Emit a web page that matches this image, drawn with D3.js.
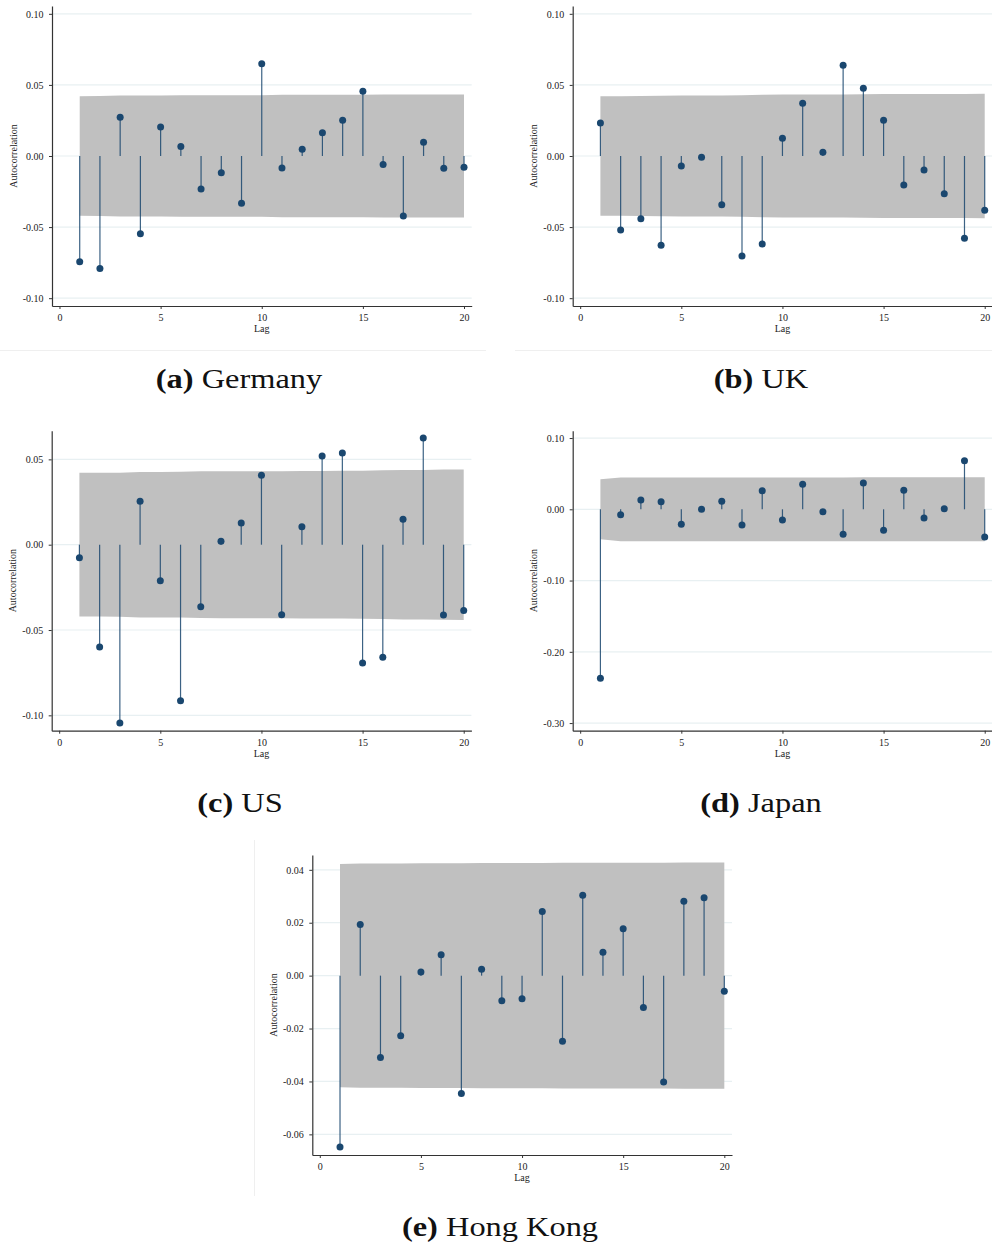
<!DOCTYPE html>
<html><head><meta charset="utf-8">
<script src="https://cdn.jsdelivr.net/npm/d3@7"></script>
<style>body{margin:0;background:#fff}svg{display:block}</style>
</head><body>
<script>
// ---------- DATA ----------
const lags = [1,2,3,4,5,6,7,8,9,10,11,12,13,14,15,16,17,18,19,20];
const xTicks = [0,5,10,15,20];

const germanyAcf = [-0.0743,-0.0792,0.0272,-0.0546,0.0204,0.0066,-0.0232,-0.0117,-0.0333,0.0649,
                    -0.0084,0.0047,0.0164,0.0251,0.0455,-0.0059,-0.0422,0.0096,-0.0087,-0.0080];
const ukAcf      = [0.0232,-0.0521,-0.0441,-0.0628,-0.0070,-0.0009,-0.0342,-0.0703,-0.0619,0.0124,
                    0.0371,0.0026,0.0638,0.0476,0.0251,-0.0204,-0.0098,-0.0265,-0.0579,-0.0382];
const usAcf      = [-0.0076,-0.0599,-0.1045,0.0254,-0.0211,-0.0914,-0.0363,0.0020,0.0127,0.0407,
                    -0.0410,0.0105,0.0520,0.0537,-0.0693,-0.0660,0.0149,0.0625,-0.0412,-0.0385];
const japanAcf   = [-0.2372,-0.0075,0.0131,0.0107,-0.0211,0.0000,0.0112,-0.0220,0.0261,-0.0150,
                    0.0351,-0.0033,-0.0351,0.0369,-0.0295,0.0267,-0.0122,0.0008,0.0682,-0.0389];
const hongKongAcf= [-0.0648,0.0193,-0.0309,-0.0227,0.0014,0.0079,-0.0446,0.0024,-0.0095,-0.0087,
                    0.0242,-0.0248,0.0304,0.0088,0.0177,-0.0120,-0.0402,0.0281,0.0294,-0.0059];

// 95% confidence band half-widths (Bartlett), per lag
const germanyBand = [0.0420,0.0422,0.0425,0.0425,0.0426,0.0427,0.0427,0.0427,0.0428,0.0428,
                     0.0430,0.0430,0.0430,0.0430,0.0431,0.0432,0.0432,0.0433,0.0433,0.0433];
const ukBand      = [0.0421,0.0421,0.0422,0.0423,0.0426,0.0426,0.0426,0.0427,0.0430,0.0432,
                     0.0432,0.0433,0.0433,0.0435,0.0436,0.0436,0.0436,0.0436,0.0436,0.0437];
const usBand      = [0.0421,0.0421,0.0422,0.0426,0.0426,0.0427,0.0430,0.0431,0.0431,0.0431,
                     0.0431,0.0432,0.0432,0.0433,0.0434,0.0436,0.0438,0.0438,0.0440,0.0441];
const japanBand   = [0.0421,0.0447,0.0447,0.0447,0.0447,0.0447,0.0447,0.0447,0.0447,0.0448,
                     0.0448,0.0448,0.0448,0.0449,0.0449,0.0449,0.0449,0.0449,0.0449,0.0450];
const hongKongBand= [0.0422,0.0424,0.0424,0.0424,0.0425,0.0425,0.0425,0.0426,0.0426,0.0426,
                     0.0426,0.0427,0.0427,0.0427,0.0427,0.0427,0.0427,0.0428,0.0428,0.0428];

const yTicksA = [-0.10,-0.05,0.00,0.05,0.10];
const yTicksC = [-0.10,-0.05,0.00,0.05];
const yTicksD = [-0.30,-0.20,-0.10,0.00,0.10];
const yTicksE = [-0.06,-0.04,-0.02,0.00,0.02,0.04];

const captionLetters = ["(a)","(b)","(c)","(d)","(e)"];
const captionNames   = ["Germany","UK","US","Japan","Hong Kong"];

// ---------- LAYOUT ----------
const W = 992, H = 1245;
const svg = d3.select("body").append("svg").attr("width", W).attr("height", H);

const panels = [
  {acf: germanyAcf,  band: germanyBand,  ticks: yTicksA, yDom: [-0.1055, 0.1055], ax: 52,    top: 6,     bottom: 306,   cap: [239, 388]},
  {acf: ukAcf,       band: ukBand,       ticks: yTicksA, yDom: [-0.1055, 0.1055], ax: 572.7, top: 6,     bottom: 306,   cap: [761, 388]},
  {acf: usAcf,       band: usBand,       ticks: yTicksC, yDom: [-0.1090, 0.0668], ax: 51.7,  top: 430.7, bottom: 730.7, cap: [240, 812]},
  {acf: japanAcf,    band: japanBand,    ticks: yTicksD, yDom: [-0.3107, 0.1103], ax: 572.7, top: 430.7, bottom: 730.7, cap: [761, 812]},
  {acf: hongKongAcf, band: hongKongBand, ticks: yTicksE, yDom: [-0.0678, 0.0456], ax: 312.3, top: 855,   bottom: 1155,  cap: [500, 1236]}
];

const NAVY = "#1a476f";
const serif = "'Liberation Serif','Times New Roman',serif";

// faint graph-region borders
svg.append("line").attr("x1",0).attr("x2",486).attr("y1",350.5).attr("y2",350.5).attr("stroke","#efefef");
svg.append("line").attr("x1",515).attr("x2",992).attr("y1",350.5).attr("y2",350.5).attr("stroke","#efefef");
svg.append("line").attr("x1",254.5).attr("x2",254.5).attr("y1",840).attr("y2",1196).attr("stroke","#efefef");

panels.forEach((p, i) => {
  const g = svg.append("g");
  const x = d3.scaleLinear().domain([-0.37, 20.38]).range([p.ax, p.ax + 419.7]);
  const y = d3.scaleLinear().domain(p.yDom).range([p.bottom, p.top]);
  const right = Math.min(x.range()[1], W);

  // gridlines
  g.selectAll(".grid").data(p.ticks).join("line")
    .attr("x1", p.ax).attr("x2", right)
    .attr("y1", d => y(d)).attr("y2", d => y(d))
    .attr("stroke", "#e8f0f2").attr("stroke-width", 1.2);

  // confidence band
  const area = d3.area()
    .x((d, k) => x(lags[k]))
    .y0((d) => y(-d))
    .y1((d) => y(d));
  g.append("path").datum(p.band).attr("d", area).attr("fill", "#c0c0c0");

  // stems
  g.selectAll(".stem").data(p.acf).join("line")
    .attr("x1", (d, k) => x(lags[k])).attr("x2", (d, k) => x(lags[k]))
    .attr("y1", y(0)).attr("y2", d => y(d))
    .attr("stroke", NAVY).attr("stroke-width", 1.2).attr("stroke-opacity", 0.85);

  // markers
  g.selectAll(".dot").data(p.acf).join("circle")
    .attr("cx", (d, k) => x(lags[k])).attr("cy", d => y(d))
    .attr("r", 3.5).attr("fill", NAVY);

  // y axis
  const yAxis = d3.axisLeft(y).tickValues(p.ticks).tickSize(3).tickPadding(5.5).tickSizeOuter(0)
    .tickFormat(d3.format(".2f"));
  const ya = g.append("g").attr("transform", `translate(${p.ax},0)`).call(yAxis);
  ya.selectAll("text").text(d => d3.format(".2f")(d).replace("\u2212", "-"))
    .attr("font-family", serif).attr("font-size", 10).attr("fill", "#222");
  ya.selectAll("line").attr("stroke", "#333");
  ya.select(".domain").attr("stroke", "#333").attr("stroke-width", 1.2);

  // x axis
  const xAxis = d3.axisBottom(x).tickValues(xTicks).tickSize(3).tickPadding(5).tickSizeOuter(0)
    .tickFormat(d3.format("d"));
  const xa = g.append("g").attr("transform", `translate(0,${p.bottom})`).call(xAxis);
  xa.selectAll("text").attr("font-family", serif).attr("font-size", 10).attr("fill", "#222");
  xa.selectAll("line").attr("stroke", "#333");
  xa.select(".domain").attr("stroke", "#333").attr("stroke-width", 1.2);

  // axis titles
  g.append("text").attr("x", x(10)).attr("y", p.bottom + 26).attr("text-anchor", "middle")
    .attr("font-family", serif).attr("font-size", 10).attr("fill", "#222").text("Lag");
  g.append("text").attr("transform", `translate(${p.ax - 39},${(p.top + p.bottom) / 2}) rotate(-90)`)
    .attr("text-anchor", "middle").attr("dy", "0.35em")
    .attr("font-family", serif).attr("font-size", 10).attr("fill", "#222").text("Autocorrelation");

  // caption
  const cap = svg.append("text")
    .attr("transform", `translate(${p.cap[0]},${p.cap[1]}) scale(1.2,1)`)
    .attr("text-anchor", "middle").attr("font-family", serif).attr("font-size", 27).attr("fill", "#111");
  cap.append("tspan").attr("font-weight", "bold").text(captionLetters[i]);
  cap.append("tspan").text(" " + captionNames[i]);
});
</script>
</body></html>
